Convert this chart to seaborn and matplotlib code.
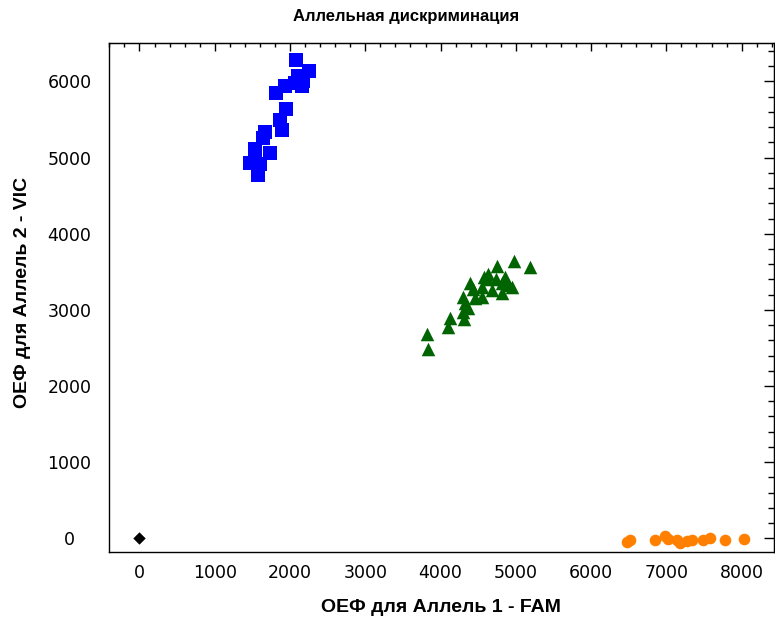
import matplotlib
matplotlib.use("Agg")
import matplotlib.pyplot as plt
from matplotlib.ticker import MultipleLocator
import seaborn as sns
import pandas as pd

# ── data ──
vic_x = [2081, 2250, 2108, 2174, 2064, 2153, 1931, 1820, 1953, 1864,
         1887, 1665, 1643, 1732, 1541, 1466, 1599, 1576, 1532]
vic_y = [6276, 6131, 6066, 6000, 5979, 5943, 5934, 5848, 5637, 5488,
         5365, 5330, 5256, 5059, 5112, 4928, 4918, 4774, 5014]

het_x = [4978, 5191, 4748, 4633, 4580, 4855, 4731, 4390, 4898, 4545,
         4433, 4678, 4944, 4301, 4545, 4811, 4456, 4323, 4367, 4301,
         4124, 4306, 4101, 3814, 3835, 4620, 4811]
het_y = [3648, 3561, 3578, 3473, 3438, 3438, 3411, 3351, 3329, 3298,
         3272, 3263, 3298, 3175, 3175, 3219, 3154, 3088, 3022, 2978,
         2891, 2878, 2781, 2685, 2484, 3400, 3351]

fam_x = [6472, 6516, 6848, 6981, 7025, 7136, 7180, 7269, 7336, 7490,
         7579, 7778, 8031]
fam_y = [-45, -22, -22, 30, -13, -22, -66, -31, -22, -22, 0, -22, -13]

ntc_x = [0]
ntc_y = [0]

groups = [
    ("VIC", vic_x, vic_y, "#0000FF", "s", 95),
    ("HET", het_x, het_y, "#006400", "^", 95),
    ("FAM", fam_x, fam_y, "#FF8000", "o", 70),
    ("NTC", ntc_x, ntc_y, "#000000", "D", 40),
]

sns.set_style("white")
plt.rcParams["font.family"] = ["DejaVu Sans"]
plt.rcParams["text.color"] = "black"
plt.rcParams["axes.labelcolor"] = "black"
plt.rcParams["xtick.color"] = "black"
plt.rcParams["ytick.color"] = "black"

fig = plt.figure(figsize=(7.75, 6.26), dpi=100)
ax = fig.add_axes([109 / 775, 1 - 552 / 626, (774 - 109) / 775, (552 - 43) / 626])

for name, xs, ys, color, marker, size in groups:
    df = pd.DataFrame({"x": xs, "y": ys})
    sns.scatterplot(data=df, x="x", y="y", color=color, marker=marker,
                    s=size, linewidth=0, ax=ax, legend=False, zorder=3)

ax.set_xlim(-405, 8430)
ax.set_ylim(-180, 6505)
ax.xaxis.set_major_locator(MultipleLocator(1000))
ax.xaxis.set_minor_locator(MultipleLocator(200))
ax.yaxis.set_major_locator(MultipleLocator(1000))
ax.yaxis.set_minor_locator(MultipleLocator(200))

for sp in ax.spines.values():
    sp.set_color("black")
    sp.set_linewidth(1.0)

ax.tick_params(axis="both", which="major", direction="inout", length=11,
               width=1.0, labelsize=12.5)
ax.tick_params(axis="both", which="minor", direction="inout", length=5, width=1.0)
ax.tick_params(axis="x", which="major", pad=3)
# y tick labels are centred under one another in the reference
ax.tick_params(axis="y", which="major", pad=23)
for lbl in ax.get_yticklabels():
    lbl.set_horizontalalignment("center")

# inward ticks on the top and right edges
top = ax.secondary_xaxis("top")
top.xaxis.set_major_locator(MultipleLocator(1000))
top.xaxis.set_minor_locator(MultipleLocator(200))
top.tick_params(which="major", direction="in", length=6, width=1.0, labeltop=False)
top.tick_params(which="minor", direction="in", length=3, width=1.0)

right = ax.secondary_yaxis("right")
right.yaxis.set_major_locator(MultipleLocator(1000))
right.yaxis.set_minor_locator(MultipleLocator(200))
right.tick_params(which="major", direction="in", length=7, width=1.0, labelright=False)
right.tick_params(which="minor", direction="in", length=4, width=1.0)

label_font = {"family": "Liberation Sans", "weight": "bold", "size": 14}
ax.set_xlabel("ОЕФ для Аллель 1 - FAM", fontdict=label_font, va="center")
ax.set_ylabel("ОЕФ для Аллель 2 - VIC", fontdict=label_font, va="center")
ax.xaxis.set_label_coords((441 - 109) / 665, (552 - 607) / 509)
ax.yaxis.set_label_coords((22 - 109) / 665, (552 - 292) / 509)

fig.text(406 / 775, 1 - 16 / 626, "Аллельная дискриминация",
         family="Liberation Sans", weight="bold", size=12,
         ha="center", va="center")

fig.savefig("out.png", dpi=100, facecolor="white")
